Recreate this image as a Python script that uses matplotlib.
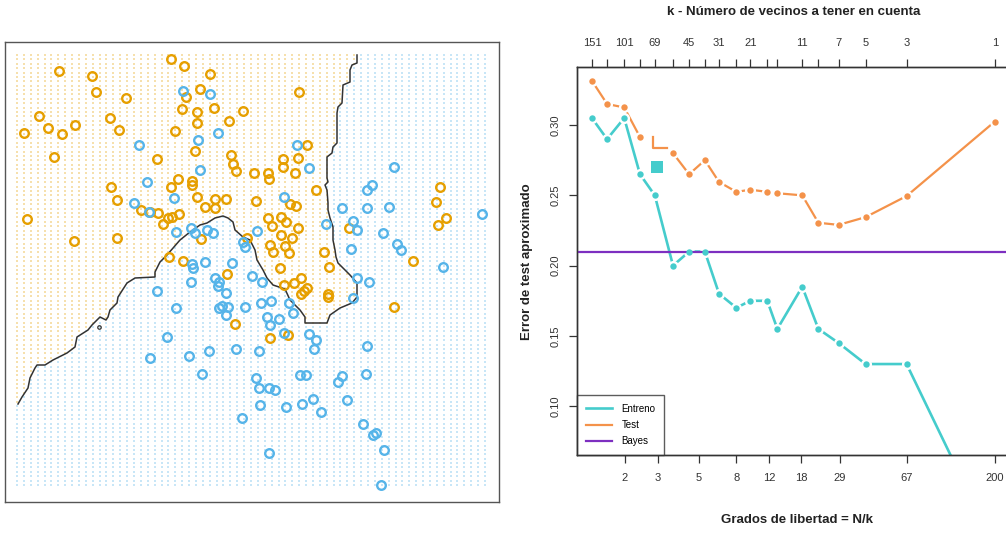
import numpy as np
import matplotlib
matplotlib.use("Agg")
import matplotlib.pyplot as plt
from matplotlib.path import Path
from matplotlib.lines import Line2D

plt.rcParams['font.family'] = ['Liberation Sans', 'DejaVu Sans']

# ---------------- Left panel data (units) ----------------
orange_x1 = [171,184,59,92,210,96,200,186,126,182,197,214,243,39,110,48,75,197,229,24,
             62,119,175,195,54,157,231,233,236,254,178,171,192,192,111,117,197,205,215,215,
             226,256,27,141,150,158,163,168,172,179,117,74,201,247,169,183,227,235,299,307,
             283,283,298,268,269,295,316,290,296,268,281,286,272,298,281,292,270,273,285,289,
             349,324,329,280,301,294,284,307,304,301,328,328,440,436,446,438,413,394,270,288]
orange_x2 = [59,66,71,76,74,92,89,97,98,109,112,108,111,116,118,128,125,123,121,133,
             134,130,131,151,157,159,155,164,171,173,179,187,181,185,187,200,197,207,199,208,
             199,201,219,210,212,213,224,218,217,214,238,241,239,238,257,261,274,324,92,145,
             159,167,158,173,179,173,190,204,206,218,217,222,226,228,235,238,245,252,246,253,
             228,252,267,268,278,283,285,288,291,294,294,297,187,202,218,225,261,307,338,335]

blue_x1 = [183,210,139,218,198,147,200,174,134,149,176,191,195,207,213,257,243,245,192,193,
           205,232,191,215,219,218,226,252,262,157,176,219,222,228,226,245,167,150,189,209,
           236,202,256,259,269,275,260,242,297,309,394,372,367,284,342,367,389,482,326,353,
           357,383,397,401,351,443,357,369,353,261,271,289,293,267,270,279,284,309,316,314,
           259,367,300,306,342,338,366,286,302,313,321,347,363,373,376,384,381,269]
blue_x2 = [91,94,145,133,140,182,170,198,203,212,232,228,233,230,233,231,242,247,264,268,
           262,263,282,278,282,286,293,276,282,291,308,308,306,307,315,307,337,358,356,351,
           349,374,378,388,388,390,405,418,145,168,167,185,190,197,208,208,207,214,224,221,
           230,233,244,250,249,267,278,282,298,303,301,303,313,317,325,319,333,334,340,349,
           351,346,375,375,376,382,374,407,404,399,412,400,424,435,433,450,485,453]

boundary_x1 = [18,22,28,30,35,37,45,53,67,75,77,88,92,100,106,108,110,117,118,127,135,155,155,
               160,167,180,190,200,207,215,223,228,233,235,243,250,255,257,263,267,273,285,290,
               300,305,305,327,330,340,352,357,357,350,343,338,336,335,333,333,330,328,328,327,
               325,328,327,327,332,333,337,337,338,342,343,350,350,352,357,357]
boundary_x2 = [404,397,388,378,368,365,365,360,353,347,337,330,325,317,320,317,310,303,297,283,278,277,272,
               262,255,240,232,225,223,218,216,218,222,230,237,240,250,260,270,278,285,289,300,
               310,317,323,323,315,308,303,297,283,275,268,263,257,250,240,227,218,210,203,190,
               185,182,178,157,153,147,143,113,107,103,85,82,70,65,63,55]
island_x1 = [99]
island_x2 = [327]

# ---------------- Right panel data ----------------
N = 200
k_values = [151, 125, 101, 83, 69, 55, 45, 37, 31, 25, 21, 17, 15, 11, 9, 7, 5, 3, 1]
k_labels = ['151', '', '101', '', '69', '', '45', '', '31', '', '21', '', '', '11', '', '7', '5', '3', '1']
train_err = [0.305, 0.290, 0.305, 0.265, 0.250, 0.200, 0.210, 0.210, 0.180, 0.170,
             0.175, 0.175, 0.155, 0.185, 0.155, 0.145, 0.130, 0.130, 0.000]
test_err = [0.3315, 0.3150, 0.3125, 0.2915, np.nan, 0.2800, 0.2650, 0.2750, 0.2595, 0.2525,
            0.2540, 0.2525, 0.2515, 0.2500, 0.2305, 0.2290, 0.2345, 0.2495, 0.3025]
bayes_err = 0.21
df_ticks = [2, 3, 5, 8, 12, 18, 29, 67, 200]
y_ticks = [0.10, 0.15, 0.20, 0.25, 0.30]
square_df = [2.98]
square_err = [0.2701]
mark_df = [2.845, 2.845, 3.36]
mark_err = [0.2917, 0.2839, 0.2839]

C_OR = '#E69F00'
C_BL = '#56B4E9'
C_TRAIN = '#45CCCC'
C_TEST = '#F4924A'
C_BAYES = '#7D2FC0'

W, H = 1006, 533
fig = plt.figure(figsize=(W / 100, H / 100), dpi=100)

# ---------------- Left panel ----------------
axL = fig.add_axes([5 / W, (H - 502) / H, 494 / W, 460 / H])
axL.set_xlim(5, 499)
axL.set_ylim(502, 42)
axL.set_xticks([])
axL.set_yticks([])
for s in axL.spines.values():
    s.set_color('#555555')
    s.set_linewidth(1.0)

gx = np.linspace(17, 485, 69)
gy = np.linspace(55, 485, 99)
GX, GY = np.meshgrid(gx, gy)
pts = np.column_stack([GX.ravel(), GY.ravel()])
poly = list(zip(boundary_x1, boundary_x2)) + [(357, 0), (0, 0), (0, 404)]
inside = Path(poly).contains_points(pts)
axL.scatter(pts[inside, 0], pts[inside, 1], s=1.5, marker='s', color=C_OR, alpha=0.32, linewidths=0)
axL.scatter(pts[~inside, 0], pts[~inside, 1], s=1.5, marker='s', color=C_BL, alpha=0.32, linewidths=0)

axL.plot(boundary_x1, boundary_x2, color='#333333', lw=1.1, zorder=3)
axL.plot(island_x1, island_x2, 'o', ms=2.5, mfc='none', mec='#333333', mew=0.9, zorder=3)

axL.plot(orange_x1, orange_x2, 'o', ms=6.2, mfc='none', mec=C_OR, mew=1.7, zorder=4)
axL.plot(blue_x1, blue_x2, 'o', ms=6.2, mfc='none', mec=C_BL, mew=1.7, zorder=4)

# ---------------- Right panel ----------------
axR = fig.add_axes([577 / W, (H - 455) / H, 434 / W, 388 / H])
axR.set_xscale('log')
axR.set_xlim(1.10, 244.7)
axR.set_ylim(0.0653, 0.3413)

df = [N / k for k in k_values]

for yv, col, lw in [(train_err, C_TRAIN, 1.9), (test_err, C_TEST, 1.6)]:
    axR.plot(df, yv, '-', color=col, lw=lw, zorder=2, clip_on=True)
    axR.plot(df, yv, 'o', ms=8.0, mfc='white', mec='white', mew=0, zorder=3)
    axR.plot(df, yv, 'o', ms=4.6, mfc=col, mec=col, mew=0, zorder=5)

axR.axhline(bayes_err, color=C_BAYES, lw=1.6, zorder=4)
axR.plot(square_df, square_err, 's', ms=9, color=C_TRAIN, mew=0, zorder=5)
axR.plot(mark_df, mark_err, '-', color=C_TEST, lw=1.6, zorder=5)

axR.set_xticks(df_ticks)
axR.set_xticklabels([str(v) for v in df_ticks])
axR.xaxis.set_minor_locator(matplotlib.ticker.NullLocator())
axR.set_yticks(y_ticks)
axR.set_yticklabels(['%.2f' % v for v in y_ticks], rotation=90, va='center')
axR.tick_params(axis='x', direction='out', length=6, width=0.9, pad=7, labelsize=8, colors='#333333')
axR.tick_params(axis='y', direction='out', length=6, width=0.9, pad=6, labelsize=8, colors='#333333')

axT = axR.twiny()
axT.set_xscale('log')
axT.set_xlim(axR.get_xlim())
axT.set_xticks(df)
axT.set_xticklabels(k_labels)
axT.xaxis.set_minor_locator(matplotlib.ticker.NullLocator())
axT.tick_params(axis='x', direction='out', length=6, width=0.9, pad=8, labelsize=8, colors='#333333')

for a in (axR, axT):
    for s in a.spines.values():
        s.set_color('#333333')
        s.set_linewidth(1.0)

handles = [Line2D([0], [0], color=C_TRAIN, lw=1.9),
           Line2D([0], [0], color=C_TEST, lw=1.6),
           Line2D([0], [0], color=C_BAYES, lw=1.6)]
leg = axR.legend(handles, ['Entreno', 'Test', 'Bayes'], loc='lower left', borderaxespad=0,
                 fancybox=False, frameon=True, fontsize=7, handlelength=2.7,
                 handletextpad=1.0, labelspacing=0.65, borderpad=0.9)
leg.get_frame().set_edgecolor('#333333')
leg.get_frame().set_linewidth(1.0)
leg.set_zorder(10)

fig.text(794 / W, 1 - 12 / H, 'k - Número de vecinos a tener en cuenta', ha='center', va='center',
         fontsize=9.5, fontweight='bold', color='#222222')
fig.text(797 / W, 1 - 520 / H, 'Grados de libertad = N/k', ha='center', va='center',
         fontsize=9.5, fontweight='bold', color='#222222')
fig.text(527 / W, 1 - 262 / H, 'Error de test aproximado', ha='center', va='center', rotation=90,
         fontsize=9.5, fontweight='bold', color='#222222')

fig.savefig('out.png', dpi=100)
